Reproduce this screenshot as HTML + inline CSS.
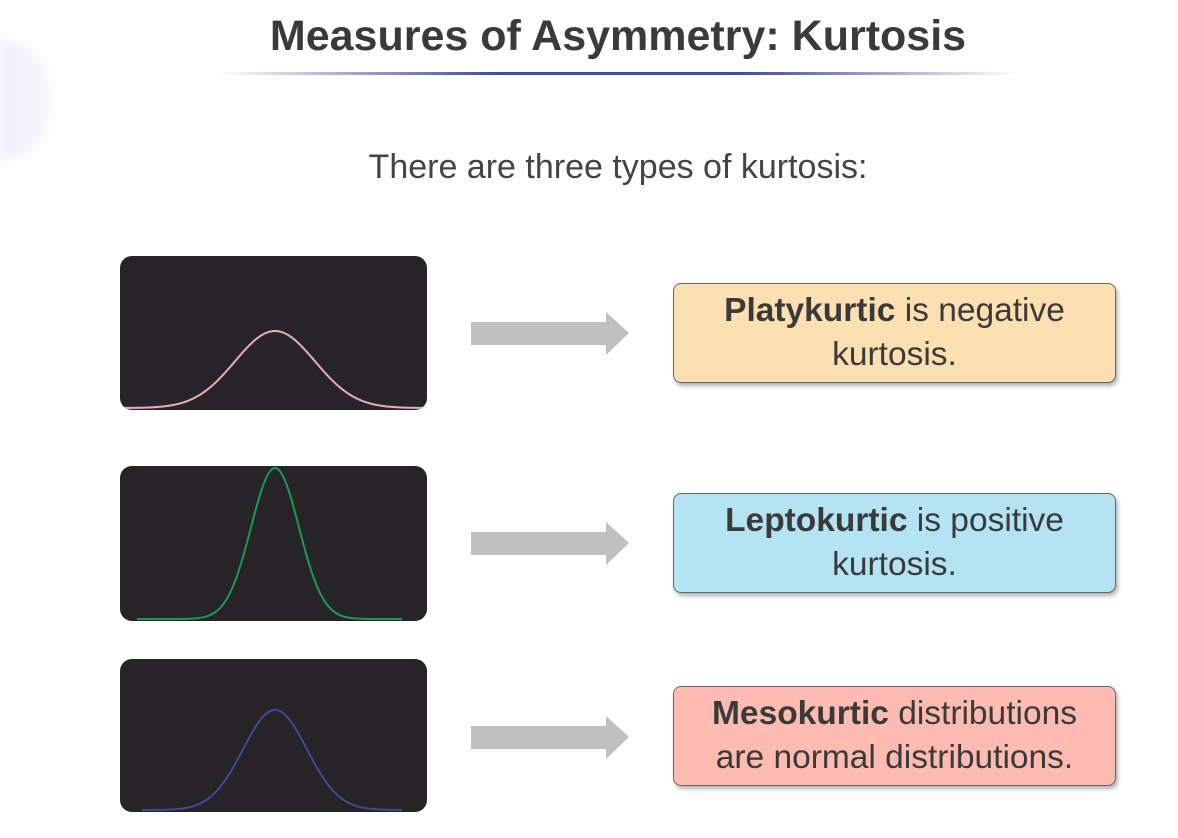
<!DOCTYPE html>
<html><head><meta charset="utf-8"><style>
html,body{margin:0;width:1178px;height:838px;overflow:hidden}
body{background:#fff;position:relative;font-family:"Liberation Sans",sans-serif}
.t{position:absolute;left:58px;width:1120px;text-align:center;color:#3a3a3a;white-space:nowrap}
.panel{position:absolute;left:120px;width:307px;background:#262426;border-radius:12px;overflow:hidden}
.box{position:absolute;left:673px;width:441px;height:98px;border:1px solid #666;border-radius:8px;box-shadow:2px 3px 4px rgba(0,0,0,.3);display:flex;align-items:center;justify-content:center;text-align:center;font-size:33.5px;line-height:44px;color:#3a3a3a;white-space:nowrap}
</style></head><body>
<div style="position:absolute;left:0;top:40px;width:50px;height:120px;background:linear-gradient(90deg,#eef1fa,#f6f7fc);border-radius:0 60px 60px 0;filter:blur(4px)"></div>
<div class="t" style="top:12px;font-size:43px;font-weight:bold">Measures of Asymmetry: Kurtosis</div>
<div style="position:absolute;left:218px;top:72px;width:800px;height:3px;background:linear-gradient(90deg,rgba(255,255,255,0),#3a4aa0 35%,#3a4aa0 65%,rgba(255,255,255,0))"></div>
<div class="t" style="top:148px;font-size:34px;color:#444">There are three types of kurtosis:</div>

<div class="panel" style="top:256px;height:154px"><svg id="c0" width="307" height="154"></svg></div>
<div class="panel" style="top:466px;height:155px"><svg id="c1" width="307" height="155"></svg></div>
<div class="panel" style="top:659px;height:153px"><svg id="c2" width="307" height="153"></svg></div>

<svg style="position:absolute;left:0;top:0" width="1178" height="838">
<polygon points="471,322 606,322 606,312 629,333 606,355 606,345 471,345" fill="#c0c0c0"/>
<polygon points="471,532 606,532 606,522 629,543 606,565 606,555 471,555" fill="#c0c0c0"/>
<polygon points="471,726 606,726 606,716 629,737 606,759 606,749 471,749" fill="#c0c0c0"/>
</svg>

<div class="box" style="top:283px;background:#fde0b2"><div><b>Platykurtic</b> is negative<br>kurtosis.</div></div>
<div class="box" style="top:493px;background:#b4e3f2"><div><b>Leptokurtic</b> is positive<br>kurtosis.</div></div>
<div class="box" style="top:686px;background:#fdbbb2"><div><b>Mesokurtic</b> distributions<br>are normal distributions.</div></div>

<script>
const curveNames=["platykurtic-curve","leptokurtic-curve","mesokurtic-curve"];
const curveColors=["#f0a8c0","#1a9a55","#3c4a9a"];
const sigmas=[40,24,32];
const peakTops=[75,2,51];
const baselines=[152,153,151];
const xStart=[0,17,22];
const xEnd=[307,282,282];
const center=155;
for(let i=0;i<3;i++){
  const svg=document.getElementById('c'+i);
  let d='';
  for(let x=xStart[i];x<=xEnd[i];x+=1){
    const y=baselines[i]-(baselines[i]-peakTops[i])*Math.exp(-((x-center)**2)/(2*sigmas[i]**2));
    d+=(x===xStart[i]?'M':'L')+x+','+y.toFixed(2);
  }
  const p=document.createElementNS('http://www.w3.org/2000/svg','path');
  p.setAttribute('d',d);p.setAttribute('fill','none');p.setAttribute('stroke',curveColors[i]);p.setAttribute('stroke-width','2');
  
  
  svg.appendChild(p);
}
</script>
</body></html>
